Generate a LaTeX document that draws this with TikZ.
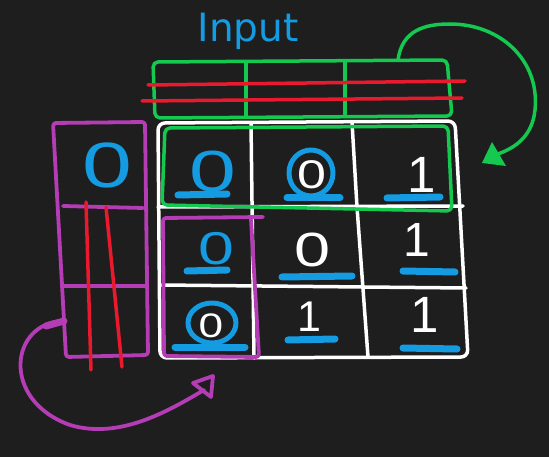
\documentclass[tikz,border=0pt]{standalone}
\usepackage{fontspec}
\setmainfont{DejaVu Sans}
\newfontfamily\digfont{Liberation Sans}
\definecolor{bg}{RGB}{30,30,30}
\definecolor{sblue}{RGB}{20,155,225}
\definecolor{sgreen}{RGB}{20,200,80}
\definecolor{sred}{RGB}{235,25,45}
\definecolor{smag}{RGB}{180,60,180}
\newcommand\dsz[1]{\fontsize{#1}{#1}\selectfont}
\begin{document}
\begin{tikzpicture}[x=1pt,y=-1pt,line cap=round,line join=round,
  wline/.style={draw=white,line width=3.5pt},
  gline/.style={draw=sgreen,line width=3.5pt},
  rline/.style={draw=sred,line width=3.5pt},
  mline/.style={draw=smag,line width=3.8pt},
  uline/.style={draw=sblue,line width=7pt},
  bring/.style={draw=sblue,line width=5pt},
  wdig/.style={inner sep=0pt,text=white},
  bdig/.style={inner sep=0pt,text=sblue}]
\fill[bg] (0,0) rectangle (549,457);
\useasboundingbox (0,0) rectangle (549,457);

% title
\node[bdig,anchor=base,font=\dsz{39}] (title) at (248,42) {Input};

% input row (green) with red strike lines
\draw[gline,rounded corners=5pt] (153,62) -- (447,60) -- (452,116) -- (155,118) -- cycle;
\draw[gline] (246,63) -- (246,117);
\draw[gline] (345,62) -- (345,114);
\draw[rline] (148,85) -- (465,81);
\draw[rline] (142,101) -- (462,98);

% white grid
\draw[wline,rounded corners=7pt] (158,123) -- (455,121) -- (468,357) -- (160,358) -- cycle;
\draw[wline] (251,123) -- (254,358);
\draw[wline] (352,122) -- (357,207) -- (368,357);
\draw[wline] (158,207) -- (463,206);
\draw[wline] (160,285) -- (466,288);

% left magenta column
\draw[mline,rounded corners=3pt] (53,123) -- (145,122) -- (148,355) -- (66,357) -- cycle;
\draw[mline] (63,206) -- (143,208);
\draw[mline] (63,286) -- (145,286);
\draw[rline] (86,202) -- (91,370);
\draw[rline] (106,207) -- (122,367);
\node[bdig,font=\digfont\dsz{64}] (bL) at (107,165) {\scalebox{1.4}[1]{0}};

% digits in grid
\node[bdig,font=\digfont\dsz{58}] (b11) at (213,172) {\scalebox{1.45}[1]{0}};
\node[wdig,font=\digfont\dsz{40}] (w12) at (312,175) {\scalebox{1.3}[1]{0}};
\draw[bring] (311,173) ellipse [x radius=22, y radius=23];
\node[wdig,font=\digfont\dsz{51}] (w13) at (422,175) {1};
\node[bdig,font=\digfont\dsz{46}] (b21) at (216,249) {\scalebox{1.4}[1]{0}};
\node[wdig,font=\digfont\dsz{48}] (w22) at (313,250) {\scalebox{1.35}[1]{0}};
\node[wdig,font=\digfont\dsz{48}] (w23) at (417,240) {1};
\node[wdig,font=\digfont\dsz{34}] (w31) at (211,326) {\scalebox{1.3}[1]{0}};
\draw[bring] (212,323) ellipse [x radius=24, y radius=20];
\node[wdig,font=\digfont\dsz{43}] (w32) at (309,317) {1};
\node[wdig,font=\digfont\dsz{51}] (w33) at (425,315) {1};

% blue underlines
\draw[uline] (178,195) -- (227,194);
\draw[uline] (287,198) -- (340,198);
\draw[uline] (387,198) -- (440,197);
\draw[uline] (187,271) -- (227,270);
\draw[uline] (282,277) -- (352,276);
\draw[uline] (403,271) -- (455,272);
\draw[uline] (175,347) -- (245,347);
\draw[uline] (288,340) -- (335,339);
\draw[uline] (403,348) -- (457,349);

% green highlight of first grid row
\draw[gline,rounded corners=5pt] (165,128) -- (448,126) -- (452,211) -- (162,205) -- cycle;

% magenta highlight of first grid column
\draw[mline,rounded corners=3pt] (263,217) -- (163,218) -- (164,356) -- (259,357) -- (251,219);

% green arrow
\coordinate (gs) at (398,60);
\coordinate (ge) at (495,155);
\draw[gline] (gs) .. controls (402,30) and (425,24) .. (450,24)
  .. controls (500,24) and (540,60) .. (535,110)
  .. controls (532,140) and (510,150) .. (ge);
\fill[sgreen] (492,142) -- (482,163) -- (506,166) -- cycle;

% magenta arrow
\coordinate (ms) at (64,321);
\coordinate (me) at (204,390);
\draw[smag,line width=7pt] (46,326) -- (ms);
\draw[mline] (ms) .. controls (10,322) and (0,400) .. (70,425)
  .. controls (120,440) and (170,410) .. (me);
\draw[mline] (193,383) -- (213,376) -- (211,397) -- cycle;
\end{tikzpicture}
\end{document}
